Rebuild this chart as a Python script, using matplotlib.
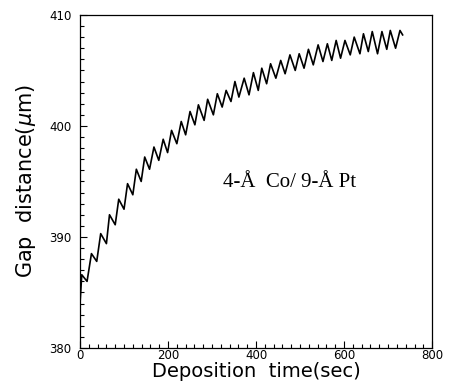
import matplotlib
matplotlib.use("Agg")
import matplotlib.pyplot as plt
from matplotlib.ticker import MultipleLocator

# Sawtooth: alternating start / peak / trough ... / end
time_sec = [0, 4, 16, 26, 38, 47, 60, 67, 80, 88, 100, 108, 120, 128, 139,
            147, 158, 168, 179, 189, 199, 208, 220, 230, 240, 250, 261, 269,
            282, 290, 303, 312, 323, 332, 343, 352, 361, 373, 384, 394, 405,
            413, 424, 433, 445, 456, 466, 477, 489, 498, 509, 519, 530, 541,
            552, 562, 572, 582, 592, 602, 614, 623, 636, 644, 655, 664, 676,
            686, 697, 705, 717, 727, 733]
gap_um = [384.0, 386.6, 386.0, 388.5, 387.8, 390.3, 389.4, 392.0, 391.1,
          393.4, 392.5, 394.8, 393.8, 396.1, 395.0, 397.2, 396.1, 398.1,
          396.9, 398.8, 397.6, 399.6, 398.4, 400.4, 399.2, 401.3, 400.1,
          401.9, 400.5, 402.4, 401.0, 402.9, 401.7, 403.2, 402.2, 404.0,
          402.6, 404.3, 402.8, 404.8, 403.2, 405.2, 403.8, 405.6, 404.3,
          405.9, 404.7, 406.4, 405.0, 406.5, 405.2, 406.9, 405.5, 407.3,
          405.8, 407.4, 405.9, 407.7, 406.1, 407.7, 406.4, 408.0, 406.5,
          408.3, 406.7, 408.5, 406.5, 408.5, 406.9, 408.6, 407.0, 408.6,
          408.2]

x_ticks = [0, 200, 400, 600, 800]
y_ticks = [380, 390, 400, 410]
annotation = "4-Å  Co/ 9-Å Pt"

fig = plt.figure(figsize=(4.52, 3.82), dpi=100)
ax = fig.add_axes([0.177, 0.089, 0.779, 0.872])
ax.plot(time_sec, gap_um, color="black", lw=1.2)

ax.set_xlim(0, 800)
ax.set_ylim(380, 410)
ax.set_xticks(x_ticks)
ax.set_yticks(y_ticks)
ax.xaxis.set_minor_locator(MultipleLocator(20))
ax.yaxis.set_minor_locator(MultipleLocator(1))
ax.tick_params(which="both", direction="in", top=False, right=False,
               labelsize=8.5, width=0.8, colors="black")
ax.tick_params(axis="y", which="major", length=5, pad=6)
ax.tick_params(axis="y", which="minor", length=3)
ax.tick_params(axis="x", which="major", length=5, pad=1)
ax.tick_params(axis="x", which="minor", length=3)
for sp in ax.spines.values():
    sp.set_linewidth(0.9)
    sp.set_color("black")

ax.set_xlabel("Deposition  time(sec)", fontsize=14, color="black",
              labelpad=0)
ax.set_ylabel("Gap  distance($\\mu$m)", fontsize=15, color="black",
              labelpad=8)

ax.text(325, 394.9, annotation, family="Liberation Serif", fontsize=15,
        va="center", ha="left", color="black")

fig.savefig("out.png", dpi=100)
